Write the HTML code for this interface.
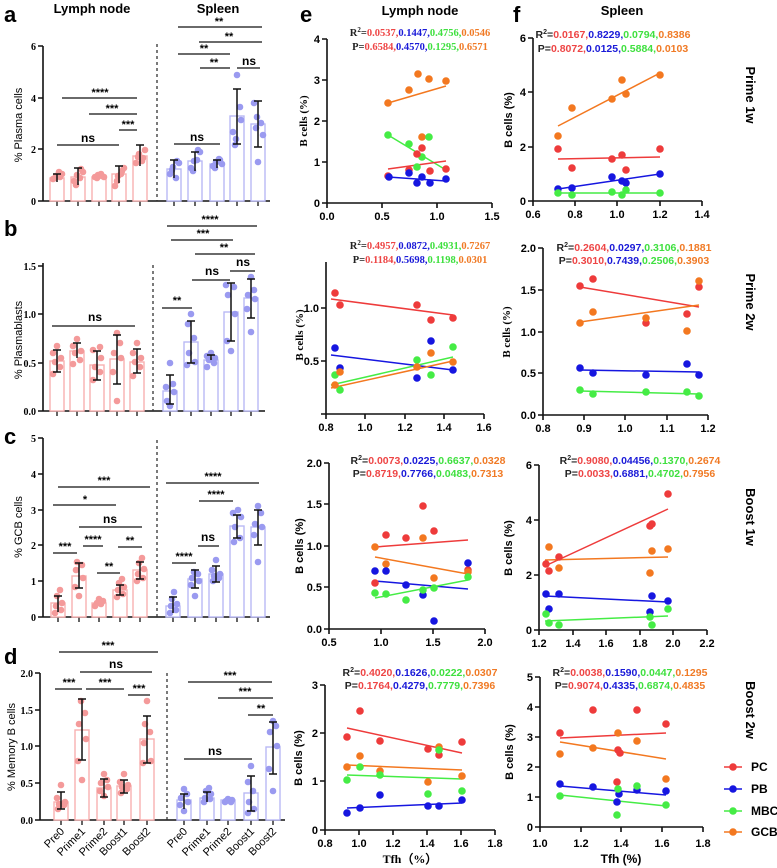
<!DOCTYPE html>
<html><head><meta charset="utf-8"><style>
body{margin:0;background:#fff}
svg{display:block}
.s{font-family:"Liberation Serif",serif;font-weight:bold}
.t{font-family:"Liberation Sans",sans-serif;font-weight:bold}
.n{font-family:"Liberation Sans",sans-serif}
.ax{stroke:#111;stroke-width:1.6;fill:none}
.sg{stroke:#111;stroke-width:1.3}
.lb{fill:#fff;stroke:#f7b0b0;stroke-width:1.4}
.sb{fill:#fff;stroke:#b9b9f4;stroke-width:1.4}
.ld circle{fill:#f49a9a}
.sd circle{fill:#9a9af0}
.eb{stroke:#111;stroke-width:1.5;fill:none}
.pc{fill:#ee3b3b}.pb{fill:#1616e0}.mb{fill:#45ec45}.gc{fill:#f37820}
.r{fill:#ee4545}.b{fill:#1a1ad8}.g{fill:#3fe03f}.o{fill:#f07a25}
</style></head><body>
<svg width="777" height="868" viewBox="0 0 777 868" xmlns="http://www.w3.org/2000/svg">
<!-- ===== Panel labels / titles ===== -->
<text x="4" y="22" class="t" font-size="22">a</text>
<text x="4" y="236" class="t" font-size="22">b</text>
<text x="4" y="444" class="t" font-size="22">c</text>
<text x="4" y="664" class="t" font-size="22">d</text>
<text x="300" y="22" class="t" font-size="22">e</text>
<text x="513" y="22" class="t" font-size="22">f</text>
<text x="92" y="13" class="t" font-size="13" text-anchor="middle">Lymph node</text>
<text x="218" y="13" class="t" font-size="13" text-anchor="middle">Spleen</text>
<text x="420" y="15" class="t" font-size="13" text-anchor="middle">Lymph node</text>
<text x="622" y="15" class="t" font-size="13" text-anchor="middle">Spleen</text>

<!-- ===== Panel a ===== -->
<g>
<path class="ax" d="M43,46V201H270M38,46H43M38,98H43M38,149H43M38,201H43"/>
<g class="s" font-size="10" text-anchor="end"><text x="36" y="50">6</text><text x="36" y="102">4</text><text x="36" y="153">2</text><text x="36" y="205">0</text></g>
<path class="sg" d="M57,201v5M78,201v5M99,201v5M119,201v5M140,201v5M174,201v5M195,201v5M217,201v5M237,201v5M258,201v5"/>
<line x1="157" y1="44" x2="157" y2="201" stroke="#333" stroke-width="1.3" stroke-dasharray="3,3"/>
<text class="n" font-size="11" transform="translate(22,125) rotate(-90)" text-anchor="middle">% Plasma cells</text>
<rect class="lb" x="50" y="178" width="14" height="23"/><rect class="lb" x="71" y="177" width="14" height="24"/><rect class="lb" x="92" y="177" width="14" height="24"/><rect class="lb" x="112" y="174" width="14" height="27"/><rect class="lb" x="133" y="156" width="14" height="45"/>
<rect class="sb" x="167" y="169" width="14" height="32"/><rect class="sb" x="188" y="161" width="14" height="40"/><rect class="sb" x="210" y="164" width="14" height="37"/><rect class="sb" x="230" y="116" width="14" height="85"/><rect class="sb" x="251" y="124" width="14" height="77"/>
<g class="ld"><circle cx="53" cy="179" r="3.3"/><circle cx="56" cy="176" r="3.3"/><circle cx="60" cy="177" r="3.3"/><circle cx="62" cy="174" r="3.3"/><circle cx="55" cy="178" r="3.3"/><circle cx="59" cy="172" r="3.3"/>
<circle cx="74" cy="181" r="3.3"/><circle cx="77" cy="175" r="3.3"/><circle cx="81" cy="169" r="3.3"/><circle cx="83" cy="172" r="3.3"/><circle cx="76" cy="185" r="3.3"/><circle cx="80" cy="178" r="3.3"/>
<circle cx="95" cy="177" r="3.3"/><circle cx="98" cy="175" r="3.3"/><circle cx="102" cy="176" r="3.3"/><circle cx="104" cy="177" r="3.3"/><circle cx="97" cy="178" r="3.3"/><circle cx="101" cy="174" r="3.3"/>
<circle cx="115" cy="186" r="3.3"/><circle cx="118" cy="176" r="3.3"/><circle cx="122" cy="171" r="3.3"/><circle cx="124" cy="168" r="3.3"/><circle cx="117" cy="181" r="3.3"/><circle cx="121" cy="174" r="3.3"/>
<circle cx="136" cy="163" r="3.3"/><circle cx="139" cy="154" r="3.3"/><circle cx="143" cy="158" r="3.3"/><circle cx="145" cy="150" r="3.3"/><circle cx="138" cy="157" r="3.3"/><circle cx="142" cy="161" r="3.3"/></g>
<g class="sd"><circle cx="170" cy="174" r="3.3"/><circle cx="173" cy="167" r="3.3"/><circle cx="177" cy="161" r="3.3"/><circle cx="179" cy="163" r="3.3"/><circle cx="172" cy="170" r="3.3"/><circle cx="176" cy="178" r="3.3"/>
<circle cx="191" cy="168" r="3.3"/><circle cx="194" cy="161" r="3.3"/><circle cx="198" cy="150" r="3.3"/><circle cx="200" cy="152" r="3.3"/><circle cx="193" cy="171" r="3.3"/><circle cx="197" cy="160" r="3.3"/>
<circle cx="213" cy="166" r="3.3"/><circle cx="216" cy="162" r="3.3"/><circle cx="220" cy="160" r="3.3"/><circle cx="222" cy="164" r="3.3"/><circle cx="215" cy="168" r="3.3"/><circle cx="219" cy="159" r="3.3"/>
<circle cx="233" cy="132" r="3.3"/><circle cx="236" cy="139" r="3.3"/><circle cx="240" cy="107" r="3.3"/><circle cx="237" cy="75" r="3.3"/><circle cx="235" cy="145" r="3.3"/><circle cx="241" cy="120" r="3.3"/>
<circle cx="254" cy="103" r="3.3"/><circle cx="257" cy="117" r="3.3"/><circle cx="261" cy="123" r="3.3"/><circle cx="263" cy="135" r="3.3"/><circle cx="256" cy="128" r="3.3"/><circle cx="258" cy="162" r="3.3"/></g>
<path class="eb" d="M57,174V182M53,174H61M78,168V185M74,168H82M119,166V183M115,166H123M140,145V166M136,145H144M174,160V178M170,160H178M195,152V171M191,152H199M217,160V168M213,160H221M237,89V144M233,89H241M233,144H241M258,101V147M254,101H262M254,147H262"/>
<path class="sg" d="M57,145H119M62,98H137M89,114H137M119,130H137M174,144H220M178,27H262M199,42H262M178,54H230M200,68H230M237,68H260"/>
<g class="t" font-size="11" text-anchor="middle"><text x="88" y="142" class="n" font-size="12">ns</text><text x="100" y="96">****</text><text x="112" y="112">***</text><text x="128" y="128">***</text><text x="197" y="141" class="n" font-size="12">ns</text><text x="219" y="25">**</text><text x="229" y="40">**</text><text x="204" y="52">**</text><text x="214" y="66">**</text><text x="249" y="65" class="n" font-size="12">ns</text></g>
</g>

<!-- ===== Panel b ===== -->
<g>
<path class="ax" d="M43,263V411H265M38,266H43M38,314H43M38,363H43M38,411H43"/>
<g class="s" font-size="10" text-anchor="end"><text x="36" y="270">1.5</text><text x="36" y="318">1.0</text><text x="36" y="367">0.5</text><text x="36" y="415">0.0</text></g>
<path class="sg" d="M57,411v5M77,411v5M97,411v5M117,411v5M137,411v5M170,411v5M191,411v5M211,411v5M231,411v5M251,411v5"/>
<line x1="153" y1="265" x2="153" y2="411" stroke="#333" stroke-width="1.3" stroke-dasharray="3,3"/>
<text class="n" font-size="11" transform="translate(22,340) rotate(-90)" text-anchor="middle">% Plasmablasts</text>
<rect class="lb" x="50" y="361" width="14" height="50"/><rect class="lb" x="70" y="351" width="14" height="60"/><rect class="lb" x="90" y="365" width="14" height="46"/><rect class="lb" x="110" y="359" width="14" height="52"/><rect class="lb" x="130" y="362" width="14" height="49"/>
<rect class="sb" x="163" y="391" width="14" height="20"/><rect class="sb" x="184" y="342" width="14" height="69"/><rect class="sb" x="204" y="360" width="14" height="51"/><rect class="sb" x="224" y="312" width="14" height="99"/><rect class="sb" x="244" y="298" width="14" height="113"/>
<g class="ld"><circle cx="53" cy="374" r="3.3"/><circle cx="60" cy="367" r="3.3"/><circle cx="55" cy="362" r="3.3"/><circle cx="61" cy="358" r="3.3"/><circle cx="53" cy="353" r="3.3"/><circle cx="57" cy="346" r="3.3"/>
<circle cx="73" cy="364" r="3.3"/><circle cx="80" cy="360" r="3.3"/><circle cx="75" cy="353" r="3.3"/><circle cx="81" cy="351" r="3.3"/><circle cx="73" cy="346" r="3.3"/><circle cx="77" cy="339" r="3.3"/>
<circle cx="93" cy="380" r="3.3"/><circle cx="100" cy="372" r="3.3"/><circle cx="95" cy="367" r="3.3"/><circle cx="101" cy="358" r="3.3"/><circle cx="93" cy="350" r="3.3"/><circle cx="100" cy="347" r="3.3"/>
<circle cx="117" cy="401" r="3.3"/><circle cx="113" cy="372" r="3.3"/><circle cx="121" cy="358" r="3.3"/><circle cx="114" cy="353" r="3.3"/><circle cx="120" cy="343" r="3.3"/><circle cx="117" cy="333" r="3.3"/>
<circle cx="133" cy="376" r="3.3"/><circle cx="140" cy="367" r="3.3"/><circle cx="135" cy="362" r="3.3"/><circle cx="141" cy="358" r="3.3"/><circle cx="133" cy="353" r="3.3"/><circle cx="137" cy="343" r="3.3"/></g>
<g class="sd"><circle cx="170" cy="406" r="3.3"/><circle cx="167" cy="401" r="3.3"/><circle cx="174" cy="392" r="3.3"/><circle cx="166" cy="387" r="3.3"/><circle cx="173" cy="384" r="3.3"/><circle cx="170" cy="363" r="3.3"/>
<circle cx="187" cy="365" r="3.3"/><circle cx="195" cy="362" r="3.3"/><circle cx="189" cy="353" r="3.3"/><circle cx="194" cy="338" r="3.3"/><circle cx="188" cy="324" r="3.3"/><circle cx="191" cy="314" r="3.3"/>
<circle cx="207" cy="367" r="3.3"/><circle cx="214" cy="363" r="3.3"/><circle cx="209" cy="360" r="3.3"/><circle cx="215" cy="358" r="3.3"/><circle cx="207" cy="356" r="3.3"/><circle cx="211" cy="353" r="3.3"/>
<circle cx="231" cy="351" r="3.3"/><circle cx="227" cy="341" r="3.3"/><circle cx="235" cy="314" r="3.3"/><circle cx="228" cy="295" r="3.3"/><circle cx="234" cy="287" r="3.3"/><circle cx="226" cy="285" r="3.3"/>
<circle cx="251" cy="332" r="3.3"/><circle cx="247" cy="309" r="3.3"/><circle cx="255" cy="299" r="3.3"/><circle cx="248" cy="295" r="3.3"/><circle cx="254" cy="290" r="3.3"/><circle cx="251" cy="277" r="3.3"/></g>
<path class="eb" d="M57,372V350M53,372H61M53,350H61M77,358V343M73,343H81M97,380V351M93,380H101M93,351H101M117,384V335M113,384H121M113,335H121M137,373V349M133,373H141M133,349H141M170,404V375M166,404H174M166,375H174M191,363V321M187,363H195M187,321H195M211,360V355M207,355H215M231,341V283M227,341H235M227,283H235M251,318V279M247,318H255M247,279H255"/>
<path class="sg" d="M52,326H135M162,308H192M192,280H230M230,271H255M195,254H255M171,240H233M167,226H257"/>
<g class="t" font-size="11" text-anchor="middle"><text x="95" y="321" class="n" font-size="12">ns</text><text x="177" y="304">**</text><text x="212" y="275" class="n" font-size="12">ns</text><text x="243" y="266" class="n" font-size="12">ns</text><text x="224" y="251">**</text><text x="203" y="237">***</text><text x="210" y="223">****</text></g>
</g>

<!-- ===== Panel c ===== -->
<g>
<path class="ax" d="M43,438V617H270M38,438H43M38,474H43M38,510H43M38,545H43M38,581H43M38,617H43"/>
<g class="s" font-size="10" text-anchor="end"><text x="36" y="442">5</text><text x="36" y="478">4</text><text x="36" y="514">3</text><text x="36" y="549">2</text><text x="36" y="585">1</text><text x="36" y="621">0</text></g>
<path class="sg" d="M58,617v5M79,617v5M99,617v5M120,617v5M140,617v5M173,617v5M195,617v5M216,617v5M237,617v5M258,617v5"/>
<line x1="157" y1="440" x2="157" y2="617" stroke="#333" stroke-width="1.3" stroke-dasharray="3,3"/>
<text class="n" font-size="11" transform="translate(22,527) rotate(-90)" text-anchor="middle">% GCB cells</text>
<rect class="lb" x="51" y="603" width="14" height="14"/><rect class="lb" x="72" y="576" width="14" height="41"/><rect class="lb" x="92" y="603" width="14" height="14"/><rect class="lb" x="113" y="590" width="14" height="27"/><rect class="lb" x="133" y="570" width="14" height="47"/>
<rect class="sb" x="166" y="606" width="14" height="11"/><rect class="sb" x="188" y="579" width="14" height="38"/><rect class="sb" x="209" y="574" width="14" height="43"/><rect class="sb" x="230" y="526" width="14" height="91"/><rect class="sb" x="251" y="527" width="14" height="90"/>
<g class="ld"><circle cx="55" cy="613" r="3.3"/><circle cx="61" cy="610" r="3.3"/><circle cx="56" cy="606" r="3.3"/><circle cx="62" cy="603" r="3.3"/><circle cx="57" cy="596" r="3.3"/><circle cx="60" cy="590" r="3.3"/>
<circle cx="79" cy="596" r="3.3"/><circle cx="75" cy="587" r="3.3"/><circle cx="83" cy="578" r="3.3"/><circle cx="76" cy="570" r="3.3"/><circle cx="82" cy="565" r="3.3"/><circle cx="77" cy="562" r="3.3"/>
<circle cx="95" cy="606" r="3.3"/><circle cx="101" cy="604" r="3.3"/><circle cx="97" cy="603" r="3.3"/><circle cx="103" cy="601" r="3.3"/><circle cx="99" cy="599" r="3.3"/>
<circle cx="117" cy="597" r="3.3"/><circle cx="123" cy="594" r="3.3"/><circle cx="118" cy="590" r="3.3"/><circle cx="124" cy="587" r="3.3"/><circle cx="119" cy="583" r="3.3"/><circle cx="122" cy="579" r="3.3"/>
<circle cx="137" cy="581" r="3.3"/><circle cx="143" cy="578" r="3.3"/><circle cx="138" cy="574" r="3.3"/><circle cx="144" cy="569" r="3.3"/><circle cx="139" cy="563" r="3.3"/><circle cx="142" cy="558" r="3.3"/></g>
<g class="sd"><circle cx="170" cy="613" r="3.3"/><circle cx="176" cy="610" r="3.3"/><circle cx="171" cy="606" r="3.3"/><circle cx="177" cy="604" r="3.3"/><circle cx="172" cy="599" r="3.3"/><circle cx="174" cy="592" r="3.3"/>
<circle cx="195" cy="596" r="3.3"/><circle cx="191" cy="585" r="3.3"/><circle cx="199" cy="581" r="3.3"/><circle cx="192" cy="578" r="3.3"/><circle cx="198" cy="574" r="3.3"/><circle cx="194" cy="572" r="3.3"/>
<circle cx="213" cy="581" r="3.3"/><circle cx="219" cy="578" r="3.3"/><circle cx="214" cy="576" r="3.3"/><circle cx="220" cy="574" r="3.3"/><circle cx="212" cy="570" r="3.3"/><circle cx="216" cy="560" r="3.3"/>
<circle cx="234" cy="542" r="3.3"/><circle cx="240" cy="538" r="3.3"/><circle cx="235" cy="527" r="3.3"/><circle cx="241" cy="517" r="3.3"/><circle cx="233" cy="513" r="3.3"/><circle cx="238" cy="510" r="3.3"/>
<circle cx="258" cy="562" r="3.3"/><circle cx="254" cy="535" r="3.3"/><circle cx="262" cy="527" r="3.3"/><circle cx="255" cy="524" r="3.3"/><circle cx="261" cy="513" r="3.3"/><circle cx="258" cy="506" r="3.3"/></g>
<path class="eb" d="M58,612V596M54,596H62M79,588V563M75,588H83M75,563H83M120,595V585M116,595H124M116,585H124M140,579V562M136,579H144M136,562H144M173,613V597M169,597H177M195,588V570M191,588H199M191,570H199M216,582V566M212,582H220M212,566H220M237,538V515M233,538H241M233,515H241M258,545V510M254,545H262M254,510H262"/>
<path class="sg" d="M53,553H77M83,546H103M97,573H120M118,547H142M79,527H142M53,505H116M58,487H150M172,563H196M198,546H219M199,501H233M166,483H259"/>
<g class="t" font-size="11" text-anchor="middle"><text x="65" y="550">***</text><text x="93" y="543">****</text><text x="109" y="570">**</text><text x="130" y="544">**</text><text x="110" y="523" class="n" font-size="12">ns</text><text x="85" y="503">*</text><text x="104" y="484">***</text><text x="184" y="560">****</text><text x="208" y="541" class="n" font-size="12">ns</text><text x="216" y="498">****</text><text x="213" y="480">****</text></g>
</g>

<!-- ===== Panel d ===== -->
<g>
<path class="ax" d="M40,673V820H285M35,673H40M35,710H40M35,746H40M35,783H40M35,820H40"/>
<g class="s" font-size="10" text-anchor="end"><text x="33" y="677">2.0</text><text x="33" y="714">1.5</text><text x="33" y="750">1.0</text><text x="33" y="787">0.5</text><text x="33" y="824">0.0</text></g>
<path class="sg" d="M61,820v5M82,820v5M104,820v5M124,820v5M147,820v5M184,820v5M207,820v5M228,820v5M251,820v5M273,820v5"/>
<line x1="167" y1="673" x2="167" y2="820" stroke="#333" stroke-width="1.3" stroke-dasharray="3,3"/>
<text class="n" font-size="11" transform="translate(15,747) rotate(-90)" text-anchor="middle">% Memory B cells</text>
<rect class="lb" x="54" y="802" width="14" height="18"/><rect class="lb" x="75" y="730" width="14" height="90"/><rect class="lb" x="97" y="788" width="14" height="32"/><rect class="lb" x="117" y="786" width="14" height="34"/><rect class="lb" x="140" y="739" width="14" height="81"/>
<rect class="sb" x="177" y="800" width="14" height="20"/><rect class="sb" x="200" y="798" width="14" height="22"/><rect class="sb" x="221" y="800" width="14" height="20"/><rect class="sb" x="244" y="793" width="14" height="27"/><rect class="sb" x="266" y="747" width="14" height="73"/>
<g class="ld"><circle cx="58" cy="809" r="3.3"/><circle cx="64" cy="805" r="3.3"/><circle cx="59" cy="804" r="3.3"/><circle cx="65" cy="802" r="3.3"/><circle cx="57" cy="798" r="3.3"/><circle cx="61" cy="785" r="3.3"/>
<circle cx="82" cy="780" r="3.3"/><circle cx="78" cy="761" r="3.3"/><circle cx="86" cy="739" r="3.3"/><circle cx="79" cy="724" r="3.3"/><circle cx="85" cy="713" r="3.3"/><circle cx="81" cy="701" r="3.3"/>
<circle cx="104" cy="796" r="3.3"/><circle cx="100" cy="791" r="3.3"/><circle cx="108" cy="787" r="3.3"/><circle cx="101" cy="783" r="3.3"/><circle cx="107" cy="780" r="3.3"/><circle cx="104" cy="774" r="3.3"/>
<circle cx="121" cy="793" r="3.3"/><circle cx="127" cy="789" r="3.3"/><circle cx="122" cy="787" r="3.3"/><circle cx="128" cy="785" r="3.3"/><circle cx="120" cy="782" r="3.3"/><circle cx="124" cy="774" r="3.3"/>
<circle cx="143" cy="763" r="3.3"/><circle cx="151" cy="761" r="3.3"/><circle cx="144" cy="743" r="3.3"/><circle cx="150" cy="732" r="3.3"/><circle cx="145" cy="724" r="3.3"/><circle cx="147" cy="701" r="3.3"/></g>
<g class="sd"><circle cx="184" cy="811" r="3.3"/><circle cx="180" cy="805" r="3.3"/><circle cx="188" cy="802" r="3.3"/><circle cx="181" cy="798" r="3.3"/><circle cx="187" cy="794" r="3.3"/><circle cx="184" cy="789" r="3.3"/>
<circle cx="204" cy="802" r="3.3"/><circle cx="210" cy="799" r="3.3"/><circle cx="205" cy="798" r="3.3"/><circle cx="211" cy="794" r="3.3"/><circle cx="206" cy="791" r="3.3"/><circle cx="209" cy="788" r="3.3"/>
<circle cx="225" cy="802" r="3.3"/><circle cx="231" cy="802" r="3.3"/><circle cx="226" cy="801" r="3.3"/><circle cx="232" cy="800" r="3.3"/><circle cx="228" cy="799" r="3.3"/>
<circle cx="248" cy="813" r="3.3"/><circle cx="254" cy="809" r="3.3"/><circle cx="249" cy="802" r="3.3"/><circle cx="253" cy="791" r="3.3"/><circle cx="248" cy="782" r="3.3"/><circle cx="251" cy="766" r="3.3"/>
<circle cx="273" cy="791" r="3.3"/><circle cx="269" cy="769" r="3.3"/><circle cx="277" cy="746" r="3.3"/><circle cx="270" cy="732" r="3.3"/><circle cx="276" cy="726" r="3.3"/><circle cx="273" cy="721" r="3.3"/></g>
<path class="eb" d="M61,809V792M57,809H65M57,792H65M82,760V699M78,760H86M78,699H86M104,797V779M100,797H108M100,779H108M124,793V780M120,793H128M120,780H128M147,763V716M143,763H151M143,716H151M184,809V794M180,794H188M207,802V792M203,792H211M251,811V776M247,811H255M247,776H255M273,774V722M269,774H277M269,722H277"/>
<path class="sg" d="M55,689H82M86,689H124M128,695H150M80,672H152M59,652H158M184,759H252M248,715H273M218,698H273M188,682H272"/>
<g class="t" font-size="11" text-anchor="middle"><text x="69" y="686">***</text><text x="105" y="686">***</text><text x="139" y="692">***</text><text x="116" y="668" class="n" font-size="12">ns</text><text x="108" y="649">***</text><text x="215" y="755" class="n" font-size="12">ns</text><text x="261" y="712">**</text><text x="245" y="695">***</text><text x="230" y="679">***</text></g>
<g class="n" font-size="11" text-anchor="end">
<text transform="translate(65,832) rotate(-45)">Pre0</text><text transform="translate(86,832) rotate(-45)">Prime1</text><text transform="translate(108,832) rotate(-45)">Prime2</text><text transform="translate(128,832) rotate(-45)">Boost1</text><text transform="translate(151,832) rotate(-45)">Boost2</text>
<text transform="translate(188,832) rotate(-45)">Pre0</text><text transform="translate(211,832) rotate(-45)">Prime1</text><text transform="translate(232,832) rotate(-45)">Prime2</text><text transform="translate(255,832) rotate(-45)">Boost1</text><text transform="translate(277,832) rotate(-45)">Boost2</text>
</g>
</g>

<!-- ===== e1 ===== -->
<g>
<path class="ax" d="M327,39V203H492M322,39H327M322,80H327M322,121H327M322,162H327M322,203H327M327,203v5M382,203v5M437,203v5M492,203v5"/>
<g class="t" font-size="11" text-anchor="end"><text x="320" y="43">4</text><text x="320" y="84">3</text><text x="320" y="125">2</text><text x="320" y="166">1</text><text x="320" y="207">0</text></g>
<g class="t" font-size="11" text-anchor="middle"><text x="327" y="220">0.0</text><text x="382" y="220">0.5</text><text x="437" y="220">1.0</text><text x="492" y="220">1.5</text></g>
<text class="s" font-size="11" transform="translate(307,121) rotate(-90)" text-anchor="middle">B cells (%)</text>
<text class="s" font-size="10.5" x="420" y="36" text-anchor="middle"><tspan fill="#222">R</tspan><tspan fill="#222" font-size="7" dy="-4">2</tspan><tspan fill="#222" dy="4">=</tspan><tspan class="r">0.0537,</tspan><tspan class="b">0.1447,</tspan><tspan class="g">0.4756,</tspan><tspan class="o">0.0546</tspan></text>
<text class="s" font-size="10.5" x="420" y="50" text-anchor="middle"><tspan fill="#222">P=</tspan><tspan class="r">0.6584,</tspan><tspan class="b">0.4570,</tspan><tspan class="g">0.1295,</tspan><tspan class="o">0.6571</tspan></text>
<g stroke-width="1.5"><line x1="388" y1="103" x2="446" y2="86" stroke="#f37820"/><line x1="388" y1="135" x2="446" y2="170" stroke="#45ec45"/><line x1="388" y1="169" x2="446" y2="161" stroke="#ee3b3b"/><line x1="388" y1="177" x2="446" y2="181" stroke="#1616e0"/></g>
<g class="gc"><circle cx="388" cy="103" r="3.8"/><circle cx="409" cy="90" r="3.8"/><circle cx="418" cy="74" r="3.8"/><circle cx="429" cy="79" r="3.8"/><circle cx="446" cy="81" r="3.8"/><circle cx="422" cy="137" r="3.8"/></g>
<g class="mb"><circle cx="388" cy="135" r="3.8"/><circle cx="409" cy="144" r="3.8"/><circle cx="422" cy="157" r="3.8"/><circle cx="429" cy="137" r="3.8"/><circle cx="417" cy="167" r="3.8"/></g>
<g class="pc"><circle cx="388" cy="176" r="3.8"/><circle cx="409" cy="170" r="3.8"/><circle cx="417" cy="154" r="3.8"/><circle cx="422" cy="148" r="3.8"/><circle cx="430" cy="171" r="3.8"/><circle cx="446" cy="169" r="3.8"/></g>
<g class="pb"><circle cx="389" cy="177" r="3.8"/><circle cx="409" cy="173" r="3.8"/><circle cx="417" cy="183" r="3.8"/><circle cx="422" cy="177" r="3.8"/><circle cx="430" cy="183" r="3.8"/><circle cx="446" cy="179" r="3.8"/></g>
</g>

<!-- ===== f1 ===== -->
<g>
<path class="ax" d="M533,38V201H702M528,38H533M528,92H533M528,147H533M528,201H533M533,201v5M575,201v5M617,201v5M660,201v5M702,201v5"/>
<g class="t" font-size="11" text-anchor="end"><text x="526" y="42">6</text><text x="526" y="96">4</text><text x="526" y="151">2</text><text x="526" y="205">0</text></g>
<g class="t" font-size="11" text-anchor="middle"><text x="533" y="218">0.6</text><text x="575" y="218">0.8</text><text x="617" y="218">1.0</text><text x="660" y="218">1.2</text><text x="702" y="218">1.4</text></g>
<text class="t" font-size="11" transform="translate(512,120) rotate(-90)" text-anchor="middle">B cells (%)</text>
<text class="t" font-size="10.5" x="613" y="38" text-anchor="middle"><tspan fill="#222">R</tspan><tspan fill="#222" font-size="7" dy="-4">2</tspan><tspan fill="#222" dy="4">=</tspan><tspan class="r">0.0167,</tspan><tspan class="b">0.8229,</tspan><tspan class="g">0.0794,</tspan><tspan class="o">0.8386</tspan></text>
<text class="t" font-size="10.5" x="613" y="52" text-anchor="middle"><tspan fill="#222">P=</tspan><tspan class="r">0.8072,</tspan><tspan class="b">0.0125,</tspan><tspan class="g">0.5884,</tspan><tspan class="o">0.0103</tspan></text>
<g stroke-width="1.5"><line x1="558" y1="126" x2="660" y2="73" stroke="#f37820"/><line x1="558" y1="159" x2="660" y2="157" stroke="#ee3b3b"/><line x1="558" y1="189" x2="660" y2="174" stroke="#1616e0"/><line x1="558" y1="193" x2="660" y2="193" stroke="#45ec45"/></g>
<g class="gc"><circle cx="558" cy="136" r="3.8"/><circle cx="572" cy="108" r="3.8"/><circle cx="612" cy="99" r="3.8"/><circle cx="622" cy="80" r="3.8"/><circle cx="626" cy="94" r="3.8"/><circle cx="660" cy="75" r="3.8"/></g>
<g class="pc"><circle cx="558" cy="149" r="3.8"/><circle cx="572" cy="168" r="3.8"/><circle cx="612" cy="159" r="3.8"/><circle cx="622" cy="155" r="3.8"/><circle cx="626" cy="170" r="3.8"/><circle cx="660" cy="149" r="3.8"/></g>
<g class="pb"><circle cx="558" cy="189" r="3.8"/><circle cx="572" cy="188" r="3.8"/><circle cx="612" cy="177" r="3.8"/><circle cx="622" cy="181" r="3.8"/><circle cx="626" cy="183" r="3.8"/><circle cx="660" cy="174" r="3.8"/></g>
<g class="mb"><circle cx="558" cy="193" r="3.8"/><circle cx="572" cy="195" r="3.8"/><circle cx="612" cy="192" r="3.8"/><circle cx="622" cy="195" r="3.8"/><circle cx="626" cy="190" r="3.8"/><circle cx="660" cy="193" r="3.8"/></g>
</g>

<!-- ===== e2 ===== -->
<g>
<path class="ax" d="M326,262V414H484M321,308H326M321,361H326M321,414H326M326,414v5M365,414v5M405,414v5M444,414v5M484,414v5"/>
<g class="t" font-size="11" text-anchor="end"><text x="319" y="312">1.0</text><text x="319" y="365">0.5</text></g>
<g class="t" font-size="11" text-anchor="middle"><text x="326" y="431">0.8</text><text x="365" y="431">1.0</text><text x="405" y="431">1.2</text><text x="444" y="431">1.4</text><text x="484" y="431">1.6</text></g>
<text class="s" font-size="11" transform="translate(303,335) rotate(-90)" text-anchor="middle">B cells (%)</text>
<text class="s" font-size="10.5" x="420" y="249" text-anchor="middle"><tspan fill="#222">R</tspan><tspan fill="#222" font-size="7" dy="-4">2</tspan><tspan fill="#222" dy="4">=</tspan><tspan class="r">0.4957,</tspan><tspan class="b">0.0872,</tspan><tspan class="g">0.4931,</tspan><tspan class="o">0.7267</tspan></text>
<text class="s" font-size="10.5" x="420" y="263" text-anchor="middle"><tspan fill="#222">P=</tspan><tspan class="r">0.1184,</tspan><tspan class="b">0.5698,</tspan><tspan class="g">0.1198,</tspan><tspan class="o">0.0301</tspan></text>
<g stroke-width="1.5"><line x1="331" y1="299" x2="453" y2="315" stroke="#ee3b3b"/><line x1="331" y1="355" x2="453" y2="370" stroke="#1616e0"/><line x1="331" y1="385" x2="453" y2="357" stroke="#45ec45"/><line x1="331" y1="388" x2="453" y2="361" stroke="#f37820"/></g>
<g class="pc"><circle cx="335" cy="293" r="3.8"/><circle cx="340" cy="305" r="3.8"/><circle cx="417" cy="305" r="3.8"/><circle cx="431" cy="320" r="3.8"/><circle cx="453" cy="318" r="3.8"/></g>
<g class="pb"><circle cx="335" cy="348" r="3.8"/><circle cx="340" cy="368" r="3.8"/><circle cx="417" cy="378" r="3.8"/><circle cx="431" cy="341" r="3.8"/><circle cx="453" cy="370" r="3.8"/></g>
<g class="mb"><circle cx="335" cy="375" r="3.8"/><circle cx="340" cy="390" r="3.8"/><circle cx="417" cy="360" r="3.8"/><circle cx="431" cy="375" r="3.8"/><circle cx="453" cy="347" r="3.8"/></g>
<g class="gc"><circle cx="335" cy="385" r="3.8"/><circle cx="340" cy="372" r="3.8"/><circle cx="417" cy="367" r="3.8"/><circle cx="431" cy="353" r="3.8"/><circle cx="453" cy="362" r="3.8"/></g>
</g>

<!-- ===== f2 ===== -->
<g>
<path class="ax" d="M543,248V415H708M538,248H543M538,290H543M538,332H543M538,373H543M538,415H543M543,415v5M584,415v5M625,415v5M667,415v5M708,415v5"/>
<g class="t" font-size="11" text-anchor="end"><text x="536" y="252">2.0</text><text x="536" y="294">1.5</text><text x="536" y="336">1.0</text><text x="536" y="377">0.5</text><text x="536" y="419">0.0</text></g>
<g class="t" font-size="11" text-anchor="middle"><text x="543" y="432">0.8</text><text x="584" y="432">0.9</text><text x="625" y="432">1.0</text><text x="667" y="432">1.1</text><text x="708" y="432">1.2</text></g>
<text class="s" font-size="11" transform="translate(510,332) rotate(-90)" text-anchor="middle">B cells (%)</text>
<text class="t" font-size="10.5" x="634" y="251" text-anchor="middle"><tspan fill="#222">R</tspan><tspan fill="#222" font-size="7" dy="-4">2</tspan><tspan fill="#222" dy="4">=</tspan><tspan class="r">0.2604,</tspan><tspan class="b">0.0297,</tspan><tspan class="g">0.3106,</tspan><tspan class="o">0.1881</tspan></text>
<text class="t" font-size="10.5" x="634" y="264" text-anchor="middle"><tspan fill="#222">P=</tspan><tspan class="r">0.3010,</tspan><tspan class="b">0.7439,</tspan><tspan class="g">0.2506,</tspan><tspan class="o">0.3903</tspan></text>
<g stroke-width="1.5"><line x1="580" y1="287" x2="699" y2="307" stroke="#ee3b3b"/><line x1="580" y1="322" x2="699" y2="305" stroke="#f37820"/><line x1="580" y1="370" x2="699" y2="372" stroke="#1616e0"/><line x1="580" y1="391" x2="699" y2="394" stroke="#45ec45"/></g>
<g class="pc"><circle cx="580" cy="286" r="3.8"/><circle cx="593" cy="279" r="3.8"/><circle cx="646" cy="323" r="3.8"/><circle cx="687" cy="314" r="3.8"/><circle cx="699" cy="287" r="3.8"/></g>
<g class="gc"><circle cx="580" cy="323" r="3.8"/><circle cx="593" cy="312" r="3.8"/><circle cx="646" cy="318" r="3.8"/><circle cx="687" cy="331" r="3.8"/><circle cx="699" cy="281" r="3.8"/></g>
<g class="pb"><circle cx="580" cy="368" r="3.8"/><circle cx="593" cy="373" r="3.8"/><circle cx="646" cy="375" r="3.8"/><circle cx="687" cy="364" r="3.8"/><circle cx="699" cy="375" r="3.8"/></g>
<g class="mb"><circle cx="580" cy="390" r="3.8"/><circle cx="593" cy="394" r="3.8"/><circle cx="646" cy="392" r="3.8"/><circle cx="687" cy="392" r="3.8"/><circle cx="699" cy="396" r="3.8"/></g>
</g>

<!-- ===== e3 ===== -->
<g>
<path class="ax" d="M329,463V629H485M324,463H329M324,504H329M324,546H329M324,587H329M324,629H329M329,629v5M381,629v5M433,629v5M485,629v5"/>
<g class="t" font-size="11" text-anchor="end"><text x="322" y="467">2.0</text><text x="322" y="508">1.5</text><text x="322" y="550">1.0</text><text x="322" y="591">0.5</text><text x="322" y="633">0.0</text></g>
<g class="t" font-size="11" text-anchor="middle"><text x="329" y="646">0.5</text><text x="381" y="646">1.0</text><text x="433" y="646">1.5</text><text x="485" y="646">2.0</text></g>
<text class="t" font-size="11" transform="translate(303,546) rotate(-90)" text-anchor="middle">B cells (%)</text>
<text class="t" font-size="10.5" x="428" y="464" text-anchor="middle"><tspan fill="#222">R</tspan><tspan fill="#222" font-size="7" dy="-4">2</tspan><tspan fill="#222" dy="4">=</tspan><tspan class="r">0.0073,</tspan><tspan class="b">0.0225,</tspan><tspan class="g">0.6637,</tspan><tspan class="o">0.0328</tspan></text>
<text class="t" font-size="10.5" x="428" y="477" text-anchor="middle"><tspan fill="#222">P=</tspan><tspan class="r">0.8719,</tspan><tspan class="b">0.7766,</tspan><tspan class="g">0.0483,</tspan><tspan class="o">0.7313</tspan></text>
<g stroke-width="1.5"><line x1="375" y1="547" x2="468" y2="540" stroke="#ee3b3b"/><line x1="375" y1="557" x2="468" y2="574" stroke="#f37820"/><line x1="375" y1="581" x2="468" y2="589" stroke="#1616e0"/><line x1="375" y1="598" x2="468" y2="580" stroke="#45ec45"/></g>
<g class="pc"><circle cx="375" cy="583" r="3.8"/><circle cx="386" cy="535" r="3.8"/><circle cx="406" cy="538" r="3.8"/><circle cx="423" cy="506" r="3.8"/><circle cx="434" cy="531" r="3.8"/><circle cx="468" cy="570" r="3.8"/></g>
<g class="gc"><circle cx="375" cy="547" r="3.8"/><circle cx="386" cy="564" r="3.8"/><circle cx="423" cy="538" r="3.8"/><circle cx="434" cy="578" r="3.8"/><circle cx="468" cy="572" r="3.8"/></g>
<g class="pb"><circle cx="375" cy="571" r="3.8"/><circle cx="386" cy="571" r="3.8"/><circle cx="406" cy="585" r="3.8"/><circle cx="423" cy="595" r="3.8"/><circle cx="434" cy="621" r="3.8"/><circle cx="468" cy="563" r="3.8"/></g>
<g class="mb"><circle cx="375" cy="593" r="3.8"/><circle cx="386" cy="594" r="3.8"/><circle cx="406" cy="600" r="3.8"/><circle cx="423" cy="590" r="3.8"/><circle cx="434" cy="588" r="3.8"/><circle cx="468" cy="577" r="3.8"/></g>
</g>

<!-- ===== f3 ===== -->
<g>
<path class="ax" d="M539,465V630H707M534,465H539M534,520H539M534,575H539M534,630H539M539,630v5M573,630v5M606,630v5M640,630v5M673,630v5M707,630v5"/>
<g class="t" font-size="11" text-anchor="end"><text x="532" y="469">6</text><text x="532" y="524">4</text><text x="532" y="579">2</text><text x="532" y="634">0</text></g>
<g class="t" font-size="11" text-anchor="middle"><text x="539" y="647">1.2</text><text x="573" y="647">1.4</text><text x="606" y="647">1.6</text><text x="640" y="647">1.8</text><text x="673" y="647">2.0</text><text x="707" y="647">2.2</text></g>
<text class="t" font-size="11" transform="translate(512,548) rotate(-90)" text-anchor="middle">B cells (%)</text>
<text class="t" font-size="10.5" x="640" y="464" text-anchor="middle"><tspan fill="#222">R</tspan><tspan fill="#222" font-size="7" dy="-4">2</tspan><tspan fill="#222" dy="4">=</tspan><tspan class="r">0.9080,</tspan><tspan class="b">0.04456,</tspan><tspan class="g">0.1370,</tspan><tspan class="o">0.2674</tspan></text>
<text class="t" font-size="10.5" x="640" y="477" text-anchor="middle"><tspan fill="#222">P=</tspan><tspan class="r">0.0033,</tspan><tspan class="b">0.6881,</tspan><tspan class="g">0.4702,</tspan><tspan class="o">0.7956</tspan></text>
<g stroke-width="1.5"><line x1="545" y1="566" x2="668" y2="509" stroke="#ee3b3b"/><line x1="545" y1="560" x2="668" y2="557" stroke="#f37820"/><line x1="545" y1="596" x2="668" y2="602" stroke="#1616e0"/><line x1="545" y1="621" x2="668" y2="616" stroke="#45ec45"/></g>
<g class="pc"><circle cx="546" cy="564" r="3.8"/><circle cx="549" cy="571" r="3.8"/><circle cx="559" cy="557" r="3.8"/><circle cx="650" cy="526" r="3.8"/><circle cx="652" cy="524" r="3.8"/><circle cx="668" cy="494" r="3.8"/></g>
<g class="gc"><circle cx="549" cy="547" r="3.8"/><circle cx="559" cy="568" r="3.8"/><circle cx="650" cy="573" r="3.8"/><circle cx="652" cy="551" r="3.8"/><circle cx="668" cy="549" r="3.8"/></g>
<g class="pb"><circle cx="546" cy="594" r="3.8"/><circle cx="549" cy="609" r="3.8"/><circle cx="559" cy="594" r="3.8"/><circle cx="650" cy="612" r="3.8"/><circle cx="652" cy="596" r="3.8"/><circle cx="668" cy="601" r="3.8"/></g>
<g class="mb"><circle cx="546" cy="614" r="3.8"/><circle cx="549" cy="623" r="3.8"/><circle cx="559" cy="625" r="3.8"/><circle cx="650" cy="617" r="3.8"/><circle cx="652" cy="625" r="3.8"/><circle cx="668" cy="609" r="3.8"/></g>
</g>

<!-- ===== e4 ===== -->
<g>
<path class="ax" d="M325,685V830H495M320,685H325M320,733H325M320,781H325M320,830H325M325,830v5M359,830v5M393,830v5M427,830v5M461,830v5M495,830v5"/>
<g class="t" font-size="11" text-anchor="end"><text x="318" y="689">3</text><text x="318" y="737">2</text><text x="318" y="785">1</text><text x="318" y="834">0</text></g>
<g class="t" font-size="11" text-anchor="middle"><text x="325" y="847">0.8</text><text x="359" y="847">1.0</text><text x="393" y="847">1.2</text><text x="427" y="847">1.4</text><text x="461" y="847">1.6</text><text x="495" y="847">1.8</text></g>
<text class="t" font-size="11" transform="translate(302,758) rotate(-90)" text-anchor="middle">B cells (%)</text>
<text class="s" font-size="12" x="410" y="863" text-anchor="middle">Tfh（%）</text>
<text class="t" font-size="10.5" x="420" y="676" text-anchor="middle"><tspan fill="#222">R</tspan><tspan fill="#222" font-size="7" dy="-4">2</tspan><tspan fill="#222" dy="4">=</tspan><tspan class="r">0.4020,</tspan><tspan class="b">0.1626,</tspan><tspan class="g">0.0222,</tspan><tspan class="o">0.0307</tspan></text>
<text class="t" font-size="10.5" x="420" y="689" text-anchor="middle"><tspan fill="#222">P=</tspan><tspan class="r">0.1764,</tspan><tspan class="b">0.4279,</tspan><tspan class="g">0.7779,</tspan><tspan class="o">0.7396</tspan></text>
<g stroke-width="1.5"><line x1="347" y1="728" x2="462" y2="753" stroke="#ee3b3b"/><line x1="347" y1="765" x2="462" y2="770" stroke="#f37820"/><line x1="347" y1="775" x2="462" y2="779" stroke="#45ec45"/><line x1="347" y1="808" x2="462" y2="803" stroke="#1616e0"/></g>
<g class="pc"><circle cx="347" cy="737" r="3.8"/><circle cx="360" cy="711" r="3.8"/><circle cx="380" cy="741" r="3.8"/><circle cx="428" cy="749" r="3.8"/><circle cx="439" cy="755" r="3.8"/><circle cx="462" cy="742" r="3.8"/></g>
<g class="gc"><circle cx="347" cy="767" r="3.8"/><circle cx="360" cy="756" r="3.8"/><circle cx="380" cy="771" r="3.8"/><circle cx="428" cy="782" r="3.8"/><circle cx="439" cy="747" r="3.8"/><circle cx="462" cy="776" r="3.8"/></g>
<g class="mb"><circle cx="347" cy="780" r="3.8"/><circle cx="360" cy="767" r="3.8"/><circle cx="380" cy="775" r="3.8"/><circle cx="428" cy="794" r="3.8"/><circle cx="439" cy="750" r="3.8"/><circle cx="462" cy="791" r="3.8"/></g>
<g class="pb"><circle cx="347" cy="813" r="3.8"/><circle cx="360" cy="808" r="3.8"/><circle cx="380" cy="795" r="3.8"/><circle cx="428" cy="806" r="3.8"/><circle cx="439" cy="806" r="3.8"/><circle cx="462" cy="800" r="3.8"/></g>
</g>

<!-- ===== f4 ===== -->
<g>
<path class="ax" d="M540,677V827H703M535,677H540M535,707H540M535,737H540M535,767H540M535,797H540M535,827H540M540,827v5M581,827v5M621,827v5M662,827v5M703,827v5"/>
<g class="t" font-size="11" text-anchor="end"><text x="533" y="681">5</text><text x="533" y="711">4</text><text x="533" y="741">3</text><text x="533" y="771">2</text><text x="533" y="801">1</text><text x="533" y="831">0</text></g>
<g class="t" font-size="11" text-anchor="middle"><text x="540" y="847">1.0</text><text x="581" y="847">1.2</text><text x="621" y="847">1.4</text><text x="662" y="847">1.6</text><text x="703" y="847">1.8</text></g>
<text class="t" font-size="11" transform="translate(513,752) rotate(-90)" text-anchor="middle">B cells (%)</text>
<text class="t" font-size="12" x="621" y="863" text-anchor="middle">Tfh (%)</text>
<text class="t" font-size="10.5" x="630" y="676" text-anchor="middle"><tspan fill="#222">R</tspan><tspan fill="#222" font-size="7" dy="-4">2</tspan><tspan fill="#222" dy="4">=</tspan><tspan class="r">0.0038,</tspan><tspan class="b">0.1590,</tspan><tspan class="g">0.0447,</tspan><tspan class="o">0.1295</tspan></text>
<text class="t" font-size="10.5" x="630" y="689" text-anchor="middle"><tspan fill="#222">P=</tspan><tspan class="r">0.9074,</tspan><tspan class="b">0.4335,</tspan><tspan class="g">0.6874,</tspan><tspan class="o">0.4835</tspan></text>
<g stroke-width="1.5"><line x1="560" y1="738" x2="666" y2="733" stroke="#ee3b3b"/><line x1="560" y1="742" x2="666" y2="759" stroke="#f37820"/><line x1="560" y1="786" x2="666" y2="795" stroke="#1616e0"/><line x1="560" y1="795" x2="666" y2="806" stroke="#45ec45"/></g>
<g class="pc"><circle cx="560" cy="733" r="3.8"/><circle cx="593" cy="710" r="3.8"/><circle cx="617" cy="782" r="3.8"/><circle cx="618" cy="750" r="3.8"/><circle cx="620" cy="753" r="3.8"/><circle cx="637" cy="710" r="3.8"/><circle cx="666" cy="724" r="3.8"/></g>
<g class="gc"><circle cx="560" cy="754" r="3.8"/><circle cx="593" cy="748" r="3.8"/><circle cx="618" cy="733" r="3.8"/><circle cx="637" cy="741" r="3.8"/><circle cx="666" cy="779" r="3.8"/></g>
<g class="pb"><circle cx="560" cy="784" r="3.8"/><circle cx="593" cy="787" r="3.8"/><circle cx="617" cy="802" r="3.8"/><circle cx="619" cy="794" r="3.8"/><circle cx="637" cy="790" r="3.8"/><circle cx="666" cy="791" r="3.8"/></g>
<g class="mb"><circle cx="560" cy="796" r="3.8"/><circle cx="617" cy="815" r="3.8"/><circle cx="618" cy="789" r="3.8"/><circle cx="637" cy="786" r="3.8"/><circle cx="666" cy="805" r="3.8"/></g>
</g>

<!-- ===== Row labels ===== -->
<g class="t" font-size="13" text-anchor="middle">
<text transform="translate(746,95) rotate(90)">Prime 1w</text>
<text transform="translate(746,302) rotate(90)">Prime 2w</text>
<text transform="translate(746,517) rotate(90)">Boost 1w</text>
<text transform="translate(746,710) rotate(90)">Boost 2w</text>
</g>

<!-- ===== Legend ===== -->
<g stroke-width="1.5">
<line x1="724" y1="767" x2="742" y2="767" stroke="#ee3b3b"/><circle class="pc" cx="733" cy="767" r="3.8"/>
<line x1="724" y1="789" x2="742" y2="789" stroke="#1616e0"/><circle class="pb" cx="733" cy="789" r="3.8"/>
<line x1="724" y1="811" x2="742" y2="811" stroke="#45ec45"/><circle class="mb" cx="733" cy="811" r="3.8"/>
<line x1="724" y1="832" x2="742" y2="832" stroke="#f37820"/><circle class="gc" cx="733" cy="832" r="3.8"/>
</g>
<g class="t" font-size="12"><text x="751" y="771">PC</text><text x="751" y="793">PB</text><text x="751" y="815">MBC</text><text x="751" y="836">GCB</text></g>
</svg>
</body></html>
